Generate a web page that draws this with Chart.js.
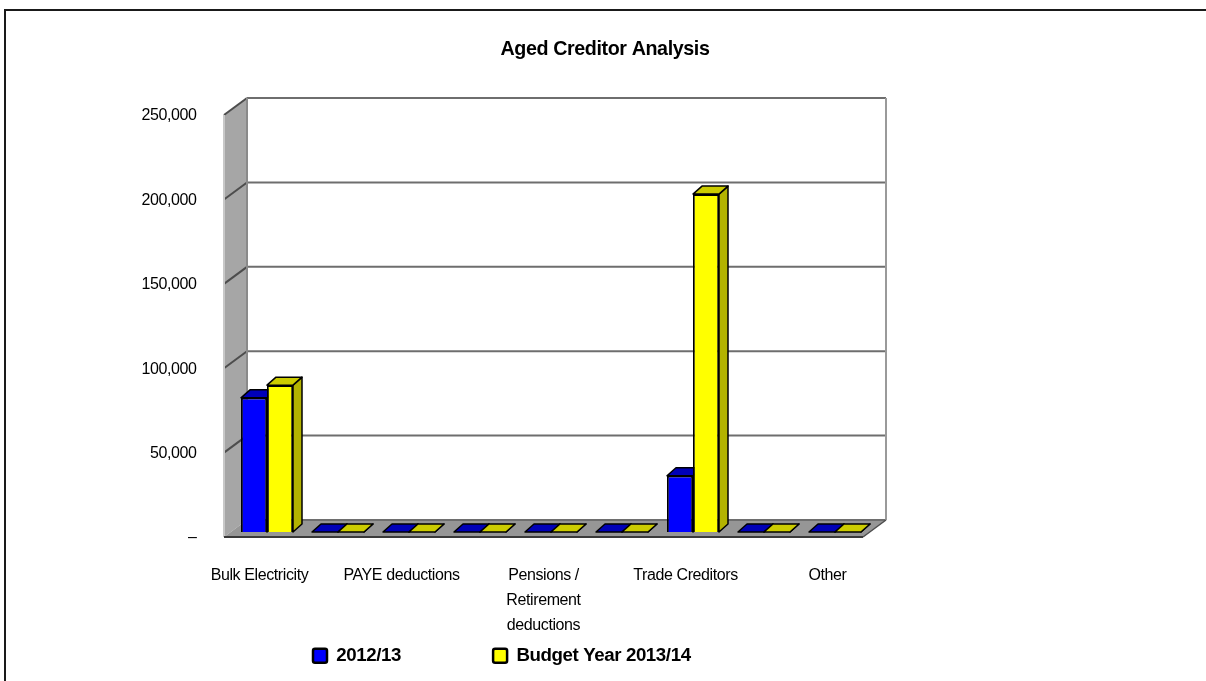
<!DOCTYPE html>
<html><head><meta charset="utf-8">
<style>html,body{margin:0;padding:0;background:#fff}canvas{display:block}</style>
<script src="https://cdn.jsdelivr.net/npm/chart.js@4"></script>
</head><body><canvas id="c" width="1206" height="681"></canvas>
<script>
const categories = ['Bulk Electricity','', 'PAYE deductions','', ['Pensions /','Retirement','deductions'],'', 'Trade Creditors','', 'Other'];
const series2012 = [79500,0,0,0,0,0,33300,0,0];
const seriesBudget = [87000,0,0,0,0,0,200200,0,0];
const seriesNames = ['2012/13','Budget Year 2013/14'];
const titleText = 'Aged Creditor Analysis';
const FONT = '"Liberation Sans", Arial, sans-serif';
const poly = (ctx, pts, fill, stroke, lw) => {
  ctx.beginPath(); pts.forEach((p,i)=> i?ctx.lineTo(p[0],p[1]):ctx.moveTo(p[0],p[1])); ctx.closePath();
  if (fill){ctx.fillStyle=fill;ctx.fill();}
  if (stroke){ctx.strokeStyle=stroke;ctx.lineWidth=lw||1;ctx.lineJoin='round';ctx.stroke();}
};
const stage = {
  id:'stage',
  beforeUpdate(chart){ chart.ctx.letterSpacing = '-0.4px'; },
  afterLayout(chart){
    const t = chart.titleBlock; t.left = 0; t.right = 1210;
    const l = chart.legend, p = l.options.labels.padding;
    l.left = 313 - p; l.right = 1206; l.top = 646.5 - p; l.bottom = 678;
  },
  beforeDraw(chart){
    const ctx = chart.ctx;
    ctx.letterSpacing = '-0.4px';
    ctx.save();
    ctx.fillStyle='#fff'; ctx.fillRect(0,0,1206,681);
    ctx.strokeStyle='#1a1a1a'; ctx.lineWidth=2;
    ctx.beginPath(); ctx.moveTo(5,681); ctx.lineTo(5,10); ctx.lineTo(1206,10); ctx.stroke();
    ctx.restore();
  },
  beforeDatasetsDraw(chart){
    const ctx = chart.ctx, x = chart.scales.x, y = chart.scales.y;
    const fx = -7.5, fy = 5, bx = 15.5, by = -12;
    const T = y.top, B = y.bottom, L = x.left, R = x.right;
    ctx.save();
    poly(ctx, [[L+bx,T+by],[R+bx,T+by],[R+bx,B+by],[L+bx,B+by]], '#fff');
    poly(ctx, [[L+fx,T+fy],[L+bx,T+by],[L+bx,B+by],[L+fx,B+fy]], '#a6a6a6');
    poly(ctx, [[L+fx,B+fy],[L+bx,B+by],[R+bx,B+by],[R+fx,B+fy]], '#969696');
    y.ticks.forEach(tk => {
      const py = y.getPixelForValue(tk.value);
      ctx.lineWidth = 2; ctx.strokeStyle = '#6e6e6e';
      ctx.beginPath(); ctx.moveTo(L+bx,py+by); ctx.lineTo(R+bx,py+by); ctx.stroke();
      if (tk.value > 0) {
        ctx.strokeStyle = '#4d4d4d';
        ctx.beginPath(); ctx.moveTo(L+fx,py+fy); ctx.lineTo(L+bx,py+by); ctx.stroke();
      }
    });
    ctx.lineWidth = 2; ctx.strokeStyle = '#9a9a9a';
    ctx.beginPath(); ctx.moveTo(R+bx,T+by); ctx.lineTo(R+bx,B+by); ctx.stroke();
    ctx.strokeStyle = '#8a8a8a';
    ctx.beginPath(); ctx.moveTo(L+bx,T+by); ctx.lineTo(L+bx,B+by); ctx.stroke();
    ctx.strokeStyle = '#c8c8c8';
    ctx.beginPath(); ctx.moveTo(L+fx,T+fy); ctx.lineTo(L+fx,B+fy); ctx.stroke();
    ctx.strokeStyle = '#3a3a3a';
    ctx.beginPath(); ctx.moveTo(L+fx,B+fy); ctx.lineTo(R+fx,B+fy); ctx.stroke();
    ctx.lineWidth = 1.5; ctx.strokeStyle = '#4d4d4d';
    ctx.beginPath(); ctx.moveTo(R+fx,B+fy); ctx.lineTo(R+bx,B+by); ctx.stroke();
    const dx = 9, dy = -8;
    const faces = [['#0000b8','#0000b8'],['#cccc00','#b3b300']];
    chart.data.datasets.forEach((ds,i)=>{
      chart.getDatasetMeta(i).data.forEach(b=>{
        const l=b.x-b.width/2, r=b.x+b.width/2, t=b.y, bs=b.base;
        poly(ctx,[[r,t],[r+dx,t+dy],[r+dx,bs+dy],[r,bs]],faces[i][1],'#000',1.5);
        poly(ctx,[[l,t],[l+dx,t+dy],[r+dx,t+dy],[r,t]],faces[i][0],'#000',1.5);
      });
    });
    ctx.restore();
  }
};
new Chart(document.getElementById('c'),{
  type:'bar',
  data:{labels:categories,datasets:[
    {label:seriesNames[0],data:series2012,backgroundColor:'#0000ff',borderColor:'#000',borderWidth:1.8,categoryPercentage:52/71,barPercentage:1},
    {label:seriesNames[1],data:seriesBudget,backgroundColor:'#ffff00',borderColor:'#000',borderWidth:1.8,categoryPercentage:52/71,barPercentage:1}
  ]},
  plugins:[stage],
  options:{
    responsive:false,animation:false,
    layout:{padding:{left:0,top:0,bottom:0,right:335.5}},
    scales:{
      x:{grid:{display:false},border:{display:false},
        afterFit:s=>{s.height=119;},
        ticks:{autoSkip:false,maxRotation:0,minRotation:0,padding:23,labelOffset:-7.5,color:'#000',font:{family:FONT,size:16,lineHeight:1.56}}},
      y:{min:0,max:250000,grid:{display:false},border:{display:false},
        afterFit:s=>{s.width=231.5;},
        ticks:{stepSize:50000,padding:27,labelOffset:6,color:'#000',font:{family:FONT,size:16},
          callback:v=>v===0?'–':v.toLocaleString('en-US')}}
    },
    plugins:{
      tooltip:{enabled:false},
      title:{display:true,text:titleText,color:'#000',font:{family:FONT,size:19.7,weight:'bold',lineHeight:1.2},padding:{top:38,bottom:48.4}},
      legend:{position:'bottom',align:'start',maxHeight:30,
        labels:{color:'#000',boxWidth:14,boxHeight:14,padding:92,useBorderRadius:true,borderRadius:2,font:{family:FONT,size:18.7,weight:'bold'},
          generateLabels:c=>Chart.defaults.plugins.legend.labels.generateLabels(c).map(it=>Object.assign(it,{lineWidth:2.5}))}}
    }
  }
});
</script></body></html>
